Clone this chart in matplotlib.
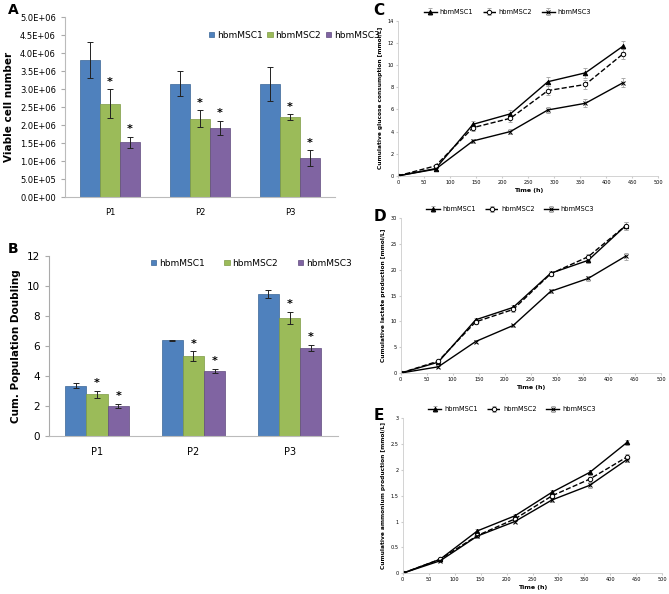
import numpy as np
import matplotlib
matplotlib.use('Agg')
import matplotlib.pyplot as plt
from matplotlib.ticker import FuncFormatter

# bar charts (A, B)
passages = ['P1', 'P2', 'P3']
groups = ['hbmMSC1', 'hbmMSC2', 'hbmMSC3']
colors = ['#4F81BD', '#9BBB59', '#8064A2']
edges = ['#3A6596', '#7D9A44', '#5F4A7D']

viable = [[3.8e6, 3.15e6, 3.15e6],
          [2.6e6, 2.18e6, 2.22e6],
          [1.52e6, 1.92e6, 1.08e6]]
viable_err = [[0.5e6, 0.35e6, 0.47e6],
              [0.4e6, 0.23e6, 0.08e6],
              [0.15e6, 0.2e6, 0.22e6]]
viable_star = [[False, False, False], [True, True, True], [True, True, True]]

cpd = [[3.35, 6.38, 9.45],
       [2.78, 5.33, 7.88],
       [2.0, 4.33, 5.87]]
cpd_err = [[0.18, 0.05, 0.27],
           [0.25, 0.32, 0.38],
           [0.15, 0.15, 0.2]]

# line charts (C, D, E)
time_h = [0, 72, 144, 216, 288, 360, 432]
glucose = [[0, 0.65, 4.65, 5.6, 8.5, 9.3, 11.7],
           [0, 0.9, 4.35, 5.2, 7.7, 8.25, 11.0],
           [0, 0.6, 3.15, 4.0, 5.95, 6.55, 8.4]]
glucose_err = [[0, 0.1, 0.3, 0.3, 0.4, 0.45, 0.5],
               [0, 0.1, 0.3, 0.3, 0.4, 0.4, 0.45],
               [0, 0.1, 0.2, 0.2, 0.3, 0.35, 0.4]]
lactate = [[0, 2.1, 10.3, 12.7, 19.3, 21.8, 28.5],
           [0, 2.3, 9.9, 12.3, 19.2, 22.5, 28.5],
           [0, 1.2, 6.1, 9.2, 15.8, 18.3, 22.6]]
lactate_err = [[0, 0.2, 0.4, 0.4, 0.5, 0.6, 0.8],
               [0, 0.2, 0.4, 0.4, 0.5, 0.6, 0.8],
               [0, 0.2, 0.3, 0.3, 0.4, 0.5, 0.7]]
ammonium = [[0, 0.27, 0.82, 1.11, 1.57, 1.95, 2.53],
            [0, 0.27, 0.73, 1.05, 1.5, 1.82, 2.25],
            [0, 0.24, 0.72, 1.0, 1.42, 1.7, 2.2]]
ammonium_err = [[0, 0.02, 0.03, 0.03, 0.04, 0.05, 0.05],
                [0, 0.02, 0.03, 0.03, 0.04, 0.05, 0.06],
                [0, 0.02, 0.03, 0.03, 0.04, 0.05, 0.05]]

fig = plt.figure(figsize=(6.69, 5.94), dpi=100)


def bar_panel(ax, vals, errs, stars, ylim, yticks, fmt, ylabel, label, legx, legy, colsp):
    x = np.arange(len(passages))
    w = 0.22
    for i in range(3):
        ax.bar(x + (i - 1) * w, vals[i], w, color=colors[i], edgecolor=edges[i],
               linewidth=0.5, label=groups[i], zorder=2)
        ax.errorbar(x + (i - 1) * w, vals[i], yerr=errs[i], fmt='none', ecolor='#222222',
                    elinewidth=0.7, capsize=2, capthick=0.7, zorder=3)
        for j in range(3):
            if stars[i][j]:
                ax.text(x[j] + (i - 1) * w, vals[i][j] + errs[i][j] + ylim * 0.015, '*',
                        ha='center', va='bottom', fontsize=8, fontweight='bold')
    ax.set_xlim(-0.5, 2.5)
    ax.set_ylim(0, ylim)
    ax.set_yticks(yticks)
    ax.yaxis.set_major_formatter(FuncFormatter(fmt))
    ax.set_xticks(x)
    ax.set_xticklabels(passages)
    ax.tick_params(axis='x', length=0, labelsize=6, pad=8)
    ax.tick_params(axis='y', length=3, labelsize=6, color='#aaaaaa', direction='out')
    for s in ['top', 'right']:
        ax.spines[s].set_visible(False)
    for s in ['left', 'bottom']:
        ax.spines[s].set_color('#bbbbbb')
        ax.spines[s].set_linewidth(0.8)
    ax.set_ylabel(ylabel, fontsize=7.5, fontweight='bold')
    ax.legend(loc='center left', bbox_to_anchor=(legx, legy), ncol=3, frameon=False,
              fontsize=6.5, handlelength=0.6, handleheight=0.6, handletextpad=0.3,
              columnspacing=colsp, borderaxespad=0)
    fig.text(0.012, ax.get_position().y1 + 0.012, label, fontsize=10, fontweight='bold',
             va='center')


def sci(v, pos):
    s = '%.1E' % v
    return s


axA = fig.add_axes([0.097, 0.668, 0.404, 0.303])
bar_panel(axA, viable, viable_err, viable_star, 5.0e6, np.arange(0, 5.01e6, 0.5e6), sci,
          'Viable cell number', 'A', 0.52, 0.9, 0.5)

axB = fig.add_axes([0.073, 0.266, 0.432, 0.303])
bar_panel(axB, cpd, cpd_err, viable_star, 12, [0, 2, 4, 6, 8, 10, 12],
          lambda v, p: '%d' % v, 'Cum. Population Doubling', 'B', 0.34, 0.96, 2.2)
axB.spines['left'].set_color('#aaaaaa')
axB.tick_params(axis='y', labelsize=7.5)
axB.tick_params(axis='x', labelsize=7)

markers = ['^', 'o', 'x']
styles = ['-', '--', '-']
faces = ['black', 'white', 'black']


def line_panel(ax, vals, errs, ylim, ystep, ylabel, label, laby):
    for i in range(3):
        ax.errorbar(time_h, vals[i], yerr=errs[i], color='black', ecolor='#aaaaaa',
                    elinewidth=0.6, capsize=1.2, linestyle=styles[i], linewidth=1.0,
                    marker=markers[i], markersize=3.2, markerfacecolor=faces[i],
                    markeredgecolor='black', markeredgewidth=0.7, label=groups[i])
    ax.set_xlim(0, 500)
    ax.set_ylim(0, ylim)
    ax.set_xticks(np.arange(0, 501, 50))
    ax.set_yticks(np.arange(0, ylim + 0.001, ystep))
    ax.yaxis.set_major_formatter(FuncFormatter(lambda v, p: ('%g' % v)))
    ax.tick_params(labelsize=3.6, length=1.5, color='#cccccc', pad=1.5)
    for s in ['top', 'right']:
        ax.spines[s].set_visible(False)
    for s in ['left', 'bottom']:
        ax.spines[s].set_color('#cccccc')
        ax.spines[s].set_linewidth(0.6)
    ax.set_xlabel('Time (h)', fontsize=4.5, fontweight='bold', labelpad=2)
    ax.set_ylabel(ylabel, fontsize=4.2, fontweight='bold', labelpad=3)
    ax.legend(loc='lower center', bbox_to_anchor=(0.42, 1.02), ncol=3, frameon=False,
              fontsize=4.8, handlelength=2.0, handletextpad=0.4, columnspacing=1.4,
              borderaxespad=0)
    fig.text(0.558, laby, label, fontsize=11, fontweight='bold', va='center')


axC = fig.add_axes([0.595, 0.704, 0.389, 0.261])
line_panel(axC, glucose, glucose_err, 14, 2, 'Cumulative glucose consumption [mmol/L]', 'C',
           0.983)
axD = fig.add_axes([0.599, 0.372, 0.389, 0.261])
line_panel(axD, lactate, lactate_err, 30, 5, 'Cumulative lactate production [mmol/L]', 'D',
           0.636)
axE = fig.add_axes([0.602, 0.035, 0.388, 0.261])
line_panel(axE, ammonium, ammonium_err, 3, 0.5, 'Cumulative ammonium production [mmol/L]', 'E',
           0.3)

fig.savefig('out.png', dpi=100)
